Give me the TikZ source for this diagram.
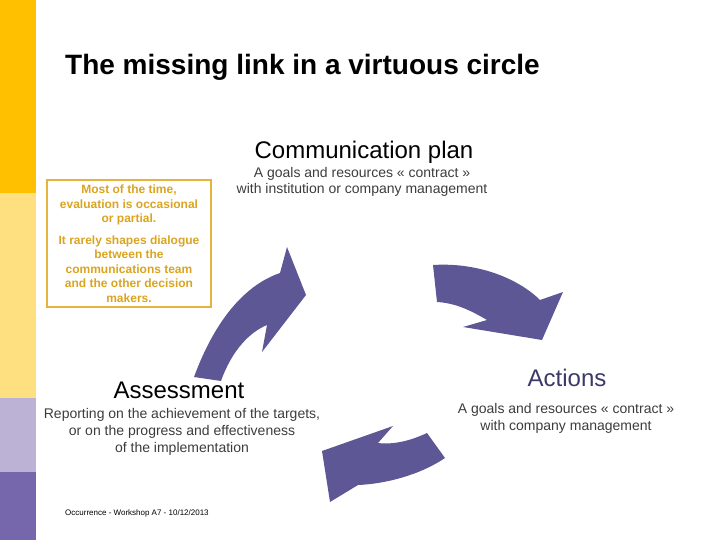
\documentclass[tikz,border=0pt]{standalone}
\usepackage{fontspec}
\setmainfont{Liberation Sans}
\definecolor{barorange}{RGB}{255,192,0}
\definecolor{baryellow}{RGB}{255,224,128}
\definecolor{barlilac}{RGB}{188,178,214}
\definecolor{barpurple}{RGB}{118,102,172}
\definecolor{arrowpurple}{RGB}{94,87,150}
\definecolor{boxgold}{RGB}{230,180,60}
\definecolor{textgold}{RGB}{218,164,32}
\definecolor{subgray}{RGB}{60,60,60}
\definecolor{actiontxt}{RGB}{60,56,104}
\tikzset{
  heading/.style={font=\fontsize{24}{28}\selectfont, anchor=base, inner sep=0pt},
  subtext/.style={font=\fontsize{14}{17}\selectfont, text=subgray, align=center, anchor=base, inner sep=0pt},
  cyclearrow/.style={fill=arrowpurple, draw=none}
}
\begin{document}
\begin{tikzpicture}[x=1pt,y=-1pt]
\useasboundingbox (0,0) rectangle (720,540);
%bande de gauche
\fill[barorange] (0,0) rectangle (36,193);
\fill[baryellow] (0,193) rectangle (36,398);
\fill[barlilac] (0,398) rectangle (36,472);
\fill[barpurple] (0,472) rectangle (36,540);
%titre
\node[anchor=base west, inner sep=0pt, font=\fontsize{28}{32}\selectfont\bfseries] (title) at (65,75) {The missing link in a virtuous circle};
%plan de communication
\node[heading] (plan) at (364,159) {Communication plan};
\node[subtext] (plansub) at (362,194) {A goals and resources « contract »\\with institution or company management};
%encadre
\node[draw=boxgold, line width=2.5pt, minimum width=164pt, minimum height=127pt, inner sep=0pt,
  text=textgold, align=center, font=\fontsize{12}{14.5}\selectfont\bfseries] (remark) at (129,243.5)
  {Most of the time,\\evaluation is occasional\\or partial.\\[7pt]It rarely shapes dialogue\\between the\\communications team\\and the other decision\\makers.};
%evaluation
\node[heading] (assess) at (179,398) {Assessment};
\node[subtext] (assesssub) at (182,452) {Reporting on the achievement of the targets,\\or on the progress and effectiveness\\of the implementation};
%actions
\node[heading, text=actiontxt] (actions) at (567,386) {Actions};
\node[subtext] (actionssub) at (566,430) {A goals and resources « contract »\\with company management};
%pied de page
\node[anchor=base west, inner sep=0pt, font=\fontsize{8}{9}\selectfont] (footer) at (65,515) {Occurrence - Workshop A7 - 10/12/2013};
%fleches
\fill[cyclearrow] (194,377) .. controls (215,320) and (245,285) .. (280,273) -- (287,247) -- (306,295)
  -- (262,352) -- (267,325) .. controls (250,332) and (232,350) .. (221,381) -- cycle;
\fill[cyclearrow] (433,265) .. controls (480,262) and (520,280) .. (540,300) -- (563,292) -- (542,340)
  -- (463,327) -- (487,320) .. controls (470,310) and (455,303) .. (437,302) -- cycle;
\fill[cyclearrow] (445,458) .. controls (420,475) and (385,484) .. (358,485) -- (330,502) -- (322,451)
  -- (393,426) -- (378,443) .. controls (395,445) and (412,440) .. (427,433) -- cycle;
\end{tikzpicture}
\end{document}
